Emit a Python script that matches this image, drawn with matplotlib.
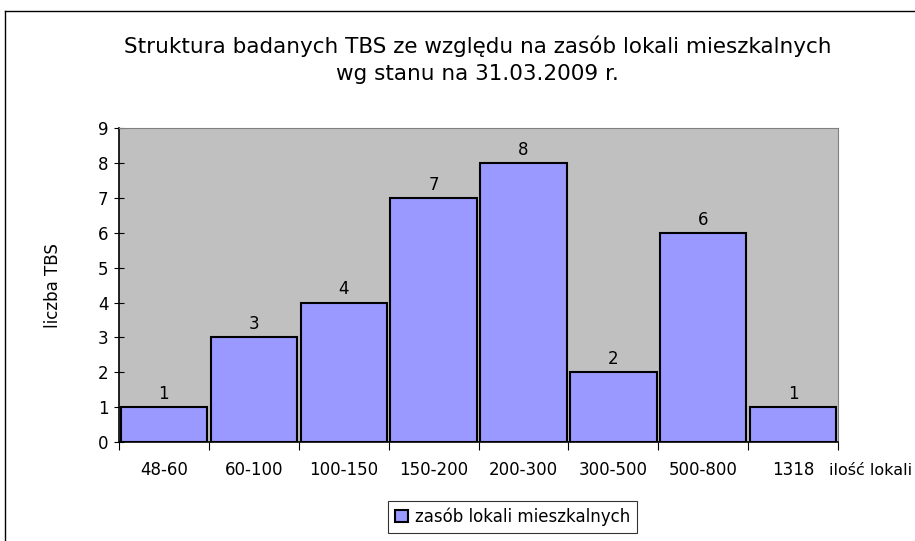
import numpy as np
import matplotlib.pyplot as plt
from matplotlib.lines import Line2D

categories = ["48-60", "60-100", "100-150", "150-200", "200-300", "300-500", "500-800", "1318"]
counts = [1, 3, 4, 7, 8, 2, 6, 1]
series_name = "zasób lokali mieszkalnych"

plt.rcParams['font.family'] = ['DejaVu Sans']

fig = plt.figure(figsize=(9.15, 5.41), dpi=100)
ax = fig.add_axes([0.130, 0.183, 0.786, 0.580])

x = np.arange(len(categories))
bars = ax.bar(x, counts, width=0.96, color="#9999FF", edgecolor="black",
              linewidth=1.5, label=series_name, zorder=3)
for xi, v in zip(x, counts):
    ax.text(xi, v + 0.12, str(v), ha="center", va="bottom", fontsize=12)

ax.set_facecolor("#C0C0C0")
ax.set_xlim(-0.5, len(categories) - 0.5)
ax.set_ylim(0, 9)
ax.set_yticks(range(0, 10))
ax.tick_params(axis="y", direction="inout", length=7, labelsize=12, pad=4)

ax.set_xticks(np.arange(-0.5, len(categories)), labels=[""] * (len(categories) + 1))
ax.set_xticks(x, labels=categories, minor=True)
ax.tick_params(axis="x", which="major", direction="out", length=6)
ax.tick_params(axis="x", which="minor", length=0, labelsize=12, pad=14)

for side in ["top", "right"]:
    ax.spines[side].set_color("#808080")
ax.spines["left"].set_linewidth(1.2)
ax.spines["bottom"].set_linewidth(1.2)

ax.set_ylabel("liczba TBS", fontsize=12, labelpad=26)
fig.text(0.906, 0.131, "ilość lokali", fontsize=11.5, ha="left", va="center")

fig.text(0.522, 0.889, "Struktura badanych TBS ze względu na zasób lokali mieszkalnych\nwg stanu na 31.03.2009 r.",
         ha="center", va="center", fontsize=15.5, linespacing=1.45)

leg = ax.legend(loc="center", bbox_to_anchor=(0.5600, 0.045), bbox_transform=fig.transFigure,
                fontsize=12, frameon=True, fancybox=False, edgecolor="black",
                handlelength=0.8, handleheight=0.8, handletextpad=0.4, borderpad=0.4)
leg.get_frame().set_linewidth(0.8)

fig.add_artist(Line2D([5 / 915, 5 / 915], [0, 1 - 11 / 541], transform=fig.transFigure, color="black", lw=1))
fig.add_artist(Line2D([5 / 915, 1], [1 - 11 / 541, 1 - 11 / 541], transform=fig.transFigure, color="black", lw=1))

plt.savefig("out.png", dpi=100)
